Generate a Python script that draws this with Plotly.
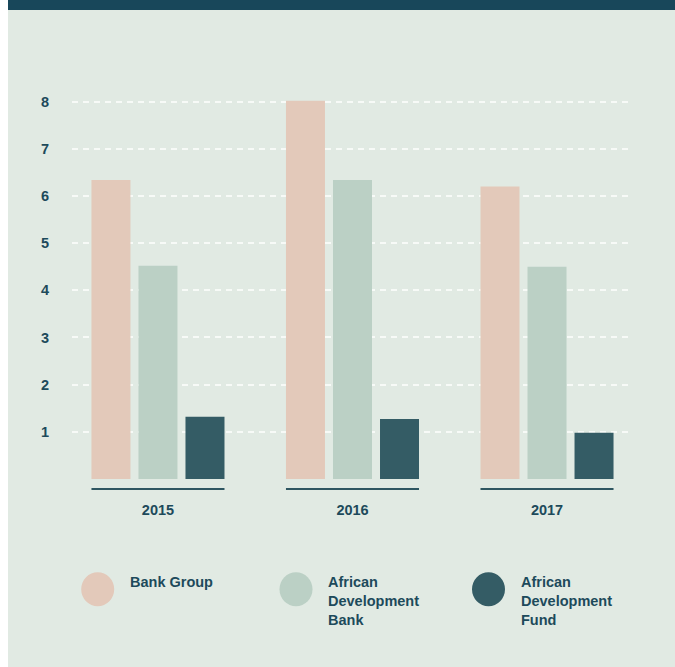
import plotly.graph_objects as go

# ---- data ----
years = ["2015", "2016", "2017"]
bank_group = [6.34, 8.02, 6.20]
afdb = [4.52, 6.34, 4.50]
adf = [1.32, 1.27, 0.98]
series_names = ["Bank Group", "African<br>Development<br>Bank", "African<br>Development<br>Fund"]
y_ticks = [1, 2, 3, 4, 5, 6, 7, 8]

# ---- style ----
W, H = 675, 667
L, R, T, B = 72, 42, 78, 188
PW, PH = W - L - R, H - T - B
BG = "#E1EAE3"
TOP = "#18475A"
TXT = "#1D4A5B"
COLORS = ["#E3C9BA", "#BBD0C5", "#345C65"]
FONT = "Liberation Sans, Arial, sans-serif"
FS = 14.5

bar_w = 0.2005
offsets = [-0.342, -0.1003, 0.1414]


def px_x(p):
    return (p - L) / PW


def px_y(p):
    return (H - B - p) / PH


fig = go.Figure()
for vals, col, off, name in zip([bank_group, afdb, adf], COLORS, offsets, series_names):
    fig.add_trace(go.Bar(x=years, y=vals, marker=dict(color=col, line=dict(width=0)),
                         width=bar_w, offset=off, name=name, showlegend=False,
                         hoverinfo="x+y"))

shapes = [
    # panel background
    dict(type="rect", xref="paper", yref="paper", x0=px_x(8), x1=px_x(W + 20),
         y0=px_y(H + 20), y1=px_y(10), fillcolor=BG, line=dict(width=0), layer="below"),
    # top band
    dict(type="rect", xref="paper", yref="paper", x0=px_x(8), x1=px_x(W + 20),
         y0=px_y(10), y1=px_y(-5), fillcolor=TOP, line=dict(width=0), layer="below"),
]
# baseline segments under each year group
for i, _ in enumerate(years):
    shapes.append(dict(type="line", xref="x", yref="paper", x0=i + offsets[0], x1=i + offsets[2] + bar_w,
                       y0=px_y(489), y1=px_y(489), line=dict(color="#2E5661", width=2.2)))

# legend circles + labels
leg_cx = [97.7, 296, 488.5]
leg_tx = [128, 326, 518.5]
leg_cy = 589.3
annotations = []
for cx, tx, col, name in zip(leg_cx, leg_tx, COLORS, series_names):
    shapes.append(dict(type="circle", xref="paper", yref="paper", xsizemode="pixel", ysizemode="pixel",
                       xanchor=px_x(cx), yanchor=px_y(leg_cy), x0=-16.5, x1=16.5, y0=-17, y1=17,
                       fillcolor=col, line=dict(width=0)))
    annotations.append(dict(xref="paper", yref="paper", x=px_x(tx), y=px_y(572), xanchor="left",
                            yanchor="top", align="left", showarrow=False, text=name,
                            font=dict(family=FONT, size=FS, color=TXT, weight="bold")))

fig.update_layout(
    width=W, height=H,
    margin=dict(l=L, r=R, t=T, b=B, pad=0),
    paper_bgcolor="white", plot_bgcolor="rgba(0,0,0,0)",
    barmode="overlay",
    shapes=shapes, annotations=annotations,
    showlegend=False,
    font=dict(family=FONT, color=TXT),
    xaxis=dict(type="category", range=[-0.442, 2.442], showgrid=False, zeroline=False,
               showline=False, ticks="", ticklabelstandoff=20,
               tickfont=dict(family=FONT, size=FS, color=TXT, weight="bold")),
    yaxis=dict(range=[0, 8.5], tickvals=y_ticks, showgrid=True, gridcolor="#F7FAF7",
               gridwidth=2, griddash="6px,5px", zeroline=False, showline=False, ticks="",
               ticklabelstandoff=22,
               tickfont=dict(family=FONT, size=FS, color=TXT, weight="bold")),
)

fig.write_html("out.html")
